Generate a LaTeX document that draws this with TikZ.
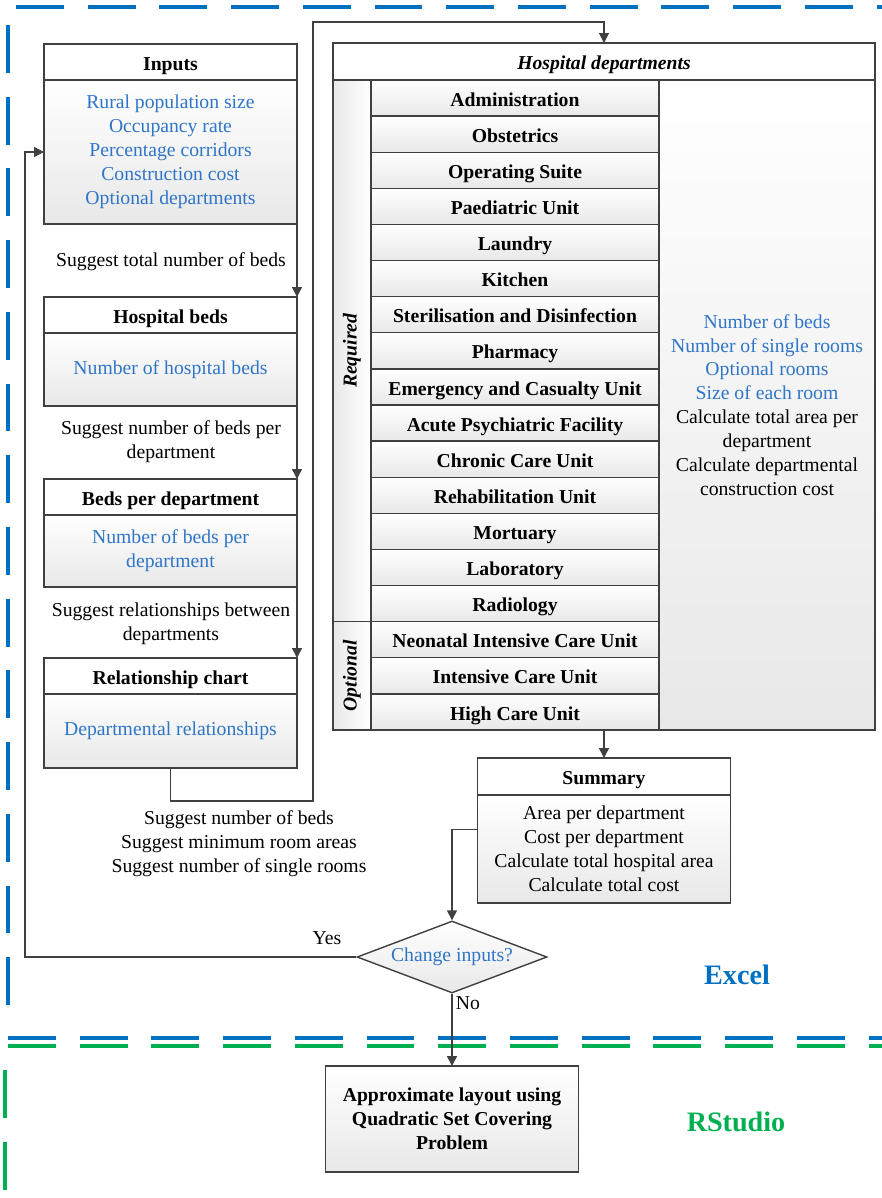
\documentclass[tikz,border=0pt]{standalone}
\usepackage{fontspec}
\setmainfont{Liberation Serif}
\usetikzlibrary{arrows.meta,positioning,calc,shapes.geometric}

\definecolor{linegray}{RGB}{64,64,64}
\definecolor{valblue}{RGB}{47,117,200}
\definecolor{excelblue}{RGB}{0,112,192}
\definecolor{rgreen}{RGB}{0,176,80}
\newcommand{\unitpx}{0.025cm}

\begin{document}
\fontsize{14}{17}\selectfont
\begin{tikzpicture}[x=\unitpx, y=-\unitpx,
  hdr/.style={draw=linegray, line width=1pt, fill=white, inner sep=0pt, outer sep=0pt,
    minimum width=253*\unitpx, minimum height=36*\unitpx, text height=12pt, text depth=0.5pt, font=\bfseries},
  body/.style={draw=linegray, line width=1pt, top color=white, bottom color=black!9,
    inner sep=0pt, outer sep=0pt, minimum width=253*\unitpx, align=center, text=valblue},
  deptrow/.style={draw=linegray, line width=1pt, top color=white, bottom color=black!9,
    inner sep=0pt, minimum width=288*\unitpx, minimum height=36.11*\unitpx,
    text height=12pt, text depth=0.5pt, font=\bfseries},
  sidecell/.style={draw=linegray, line width=1pt, left color=black!9, right color=white,
    inner sep=0pt, minimum width=38*\unitpx},
  flow/.style={draw=linegray, line width=1pt, -{Triangle[length=7pt,width=7pt]}},
  zone/.style={line width=2.2pt, dash pattern=on 34pt off 17pt},
  note/.style={align=center, inner sep=0pt}]
\useasboundingbox (0,0) rectangle (882,1198);

% Excel and RStudio zones
\draw[zone, draw=excelblue] (16,7) -- (882,7);
\draw[zone, draw=excelblue] (8,25) -- (8,1016);
\draw[zone, draw=excelblue] (8,1038) -- (882,1038);
\draw[zone, draw=rgreen] (8,1046) -- (882,1046);
\draw[zone, draw=rgreen] (5,1070) -- (5,1198);
\node[font=\fontsize{20}{24}\selectfont\bfseries, text=excelblue] (excel) at (737,975) {Excel};
\node[font=\fontsize{20}{24}\selectfont\bfseries, text=rgreen] (rstudio) at (736,1122) {RStudio};

% left column
\node[hdr] (inputs) at (170.5,62) {Inputs};
\node[body, below=0pt of inputs, minimum height=144*\unitpx] (inputsbody)
  {Rural population size\\Occupancy rate\\Percentage corridors\\Construction cost\\Optional departments};
\node[note] (note1) at (171,262) {Suggest total number of beds};

\node[hdr] (beds) at (170.5,315) {Hospital beds};
\node[body, below=0pt of beds, minimum height=73*\unitpx] (bedsbody) {Number of hospital beds};
\node[note] (note2) at (171,442) {Suggest number of beds per\\department};

\node[hdr] (perdept) at (170.5,497) {Beds per department};
\node[body, below=0pt of perdept, minimum height=72*\unitpx] (perdeptbody) {Number of beds per\\department};
\node[note] (note3) at (171,624) {Suggest relationships between\\departments};

\node[hdr] (relchart) at (170.5,676) {Relationship chart};
\node[body, below=0pt of relchart, minimum height=74*\unitpx] (relbody) {Departmental relationships};
\node[note] (note4) at (239,844) {Suggest number of beds\\Suggest minimum room areas\\Suggest number of single rooms};

% department table
\node[hdr, minimum width=542*\unitpx, minimum height=37*\unitpx, font=\bfseries\itshape] (depts) at (604,61.5) {Hospital departments};
\foreach \d [count=\i from 0] in {Administration, Obstetrics, Operating Suite, Paediatric Unit,
    Laundry, Kitchen, Sterilisation and Disinfection, Pharmacy, Emergency and Casualty Unit,
    Acute Psychiatric Facility, Chronic Care Unit, Rehabilitation Unit, Mortuary, Laboratory,
    Radiology, Neonatal Intensive Care Unit, Intensive Care Unit, High Care Unit}
  \node[deptrow] (d\i) at (515,{98.06+36.11*\i}) {\d};
\node[sidecell, minimum height=541.7*\unitpx] (required) at (352,350.8) {};
\node[rotate=90, font=\bfseries\itshape] (reqlabel) at (required) {Required};
\node[sidecell, minimum height=108.3*\unitpx] (optional) at (352,675.8) {};
\node[rotate=90, font=\bfseries\itshape] (optlabel) at (optional) {Optional};
\node[draw=linegray, line width=1pt, top color=white, bottom color=black!9, inner sep=0pt,
  minimum width=216*\unitpx, minimum height=650*\unitpx, align=center] (deptinfo) at (767,405)
  {\textcolor{valblue}{Number of beds}\\\textcolor{valblue}{Number of single rooms}\\
   \textcolor{valblue}{Optional rooms}\\\textcolor{valblue}{Size of each room}\\
   Calculate total area per\\department\\Calculate departmental\\construction cost};

% summary and decision
\node[hdr, minimum height=37*\unitpx] (summary) at (604,776.5) {Summary};
\node[body, below=0pt of summary, minimum height=108*\unitpx, text=black] (sumbody)
  {Area per department\\Cost per department\\Calculate total hospital area\\Calculate total cost};
\node[diamond, draw=linegray, line width=1pt, top color=white, bottom color=black!9, inner sep=0pt,
  aspect=2.6, minimum width=190*\unitpx, minimum height=72*\unitpx, text=valblue] (choice) at (452,957) {Change inputs?};
\node[note] (yes) at (327,938) {Yes};
\node[note] (no) at (468,1003) {No};

\node[body, minimum height=106*\unitpx, text=black, font=\bfseries] (approx) at (452,1119)
  {Approximate layout using\\Quadratic Set Covering\\Problem};

% connections
\coordinate (relturn) at (313,801);
\coordinate (reltop) at (313,22);
\coordinate (loopleft) at (25,152);
\coordinate (sumexit) at ($(sumbody.north west)!0.32!(sumbody.south west)$);

\draw[flow] (inputsbody.south east) -- (beds.north east);
\draw[flow] (bedsbody.south east) -- (perdept.north east);
\draw[flow] (perdeptbody.south east) -- (relchart.north east);
\draw[flow] (relbody.south) |- (relturn) -- (reltop) -| (depts.north);
\draw[flow] (d17.south -| depts.north) -- (summary.north);
\draw[flow] (sumexit) -| (choice.north);
\draw[flow] (choice.west) -| (loopleft) -- (inputsbody.west);
\draw[flow] (choice.south) -- (approx.north);
\end{tikzpicture}
\end{document}
